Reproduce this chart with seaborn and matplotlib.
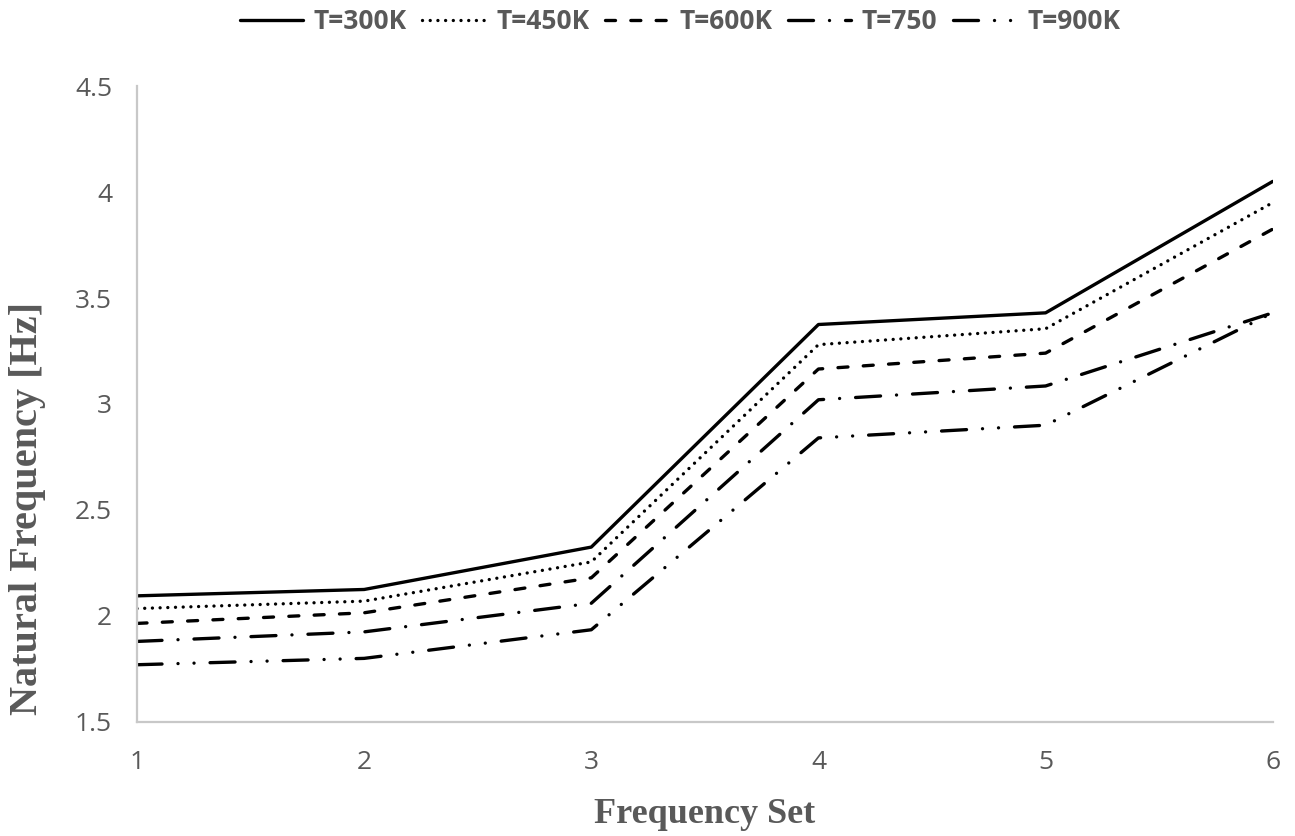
"""Natural frequency vs frequency set for several temperatures"""

import pandas as pd
import seaborn as sns
import matplotlib.pyplot as plt

# Data

frequency_set = [1, 2, 3, 4, 5, 6]
temperatures = ["T=300K", "T=450K", "T=600K", "T=750", "T=900K"]
f_300 = [2.095, 2.125, 2.325, 3.375, 3.43, 4.05]
f_450 = [2.035, 2.07, 2.255, 3.28, 3.355, 3.95]
f_600 = [1.965, 2.015, 2.18, 3.165, 3.24, 3.825]
f_750 = [1.88, 1.925, 2.06, 3.02, 3.085, 3.43]
f_900 = [1.77, 1.80, 1.935, 2.84, 2.90, 3.43]

series = dict(zip(temperatures, [f_300, f_450, f_600, f_750, f_900]))
df = pd.concat(
    [pd.DataFrame({"Frequency Set": frequency_set, "Frequency": v, "Temperature": k})
     for k, v in series.items()],
    ignore_index=True,
)

# Line styles (round caps, lengths in linewidths)
dash_styles = {
    "T=300K": "",
    "T=450K": (0.01, 2.3),
    "T=600K": (3.0, 4.6),
    "T=750": (7.5, 4.8, 0.01, 4.8),
    "T=900K": (7.5, 4.8, 0.01, 4.8, 0.01, 4.8),
}

sns.set_style("white")
plt.rcParams["font.family"] = ["Open Sans", "DejaVu Sans"]

grey = "#595959"
fig = plt.figure(figsize=(12.95, 8.36), dpi=100)
ax = fig.add_axes([0.1058, 0.1364, 0.877, 0.7607])

sns.lineplot(data=df, x="Frequency Set", y="Frequency", hue="Temperature",
             style="Temperature", palette=["black"] * 5, dashes=dash_styles,
             linewidth=2.4, dash_capstyle="round", solid_capstyle="round", ax=ax)

ax.set_xlim(1, 6)
ax.set_ylim(1.5, 4.5)
ax.set_xticks(frequency_set)
ax.set_yticks([1.5, 2, 2.5, 3, 3.5, 4, 4.5])
ax.set_yticklabels(["1.5", "2", "2.5", "3", "3.5", "4", "4.5"])
ax.tick_params(axis="both", length=0, labelsize=19, labelcolor=grey)
ax.tick_params(axis="x", pad=20)
ax.tick_params(axis="y", pad=18)

for side in ["top", "right"]:
    ax.spines[side].set_visible(False)
for side in ["left", "bottom"]:
    ax.spines[side].set_color("#c8c8c8")
    ax.spines[side].set_linewidth(1.6)

ax.set_xlabel("Frequency Set", family="Liberation Serif", fontweight="bold",
              fontsize=26, color=grey, va="center")
ax.set_ylabel("Natural Frequency [Hz]", family="Liberation Serif", fontweight="bold",
              fontsize=29, color=grey, va="center")
ax.xaxis.set_label_coords(0.5, -0.146)
ax.yaxis.set_label_coords(-0.096, 0.336)

handles, labels = ax.get_legend_handles_labels()
ax.get_legend().remove()
for h in handles:
    h.set_dash_capstyle("round")
fig.legend(handles, labels, loc="center", bbox_to_anchor=(0.525, 0.974), ncol=5,
           frameon=False, handlelength=2.4, handletextpad=0.4, columnspacing=0.6,
           prop={"weight": "bold", "size": 19}, labelcolor=grey)

plt.savefig("out.png", dpi=100)
